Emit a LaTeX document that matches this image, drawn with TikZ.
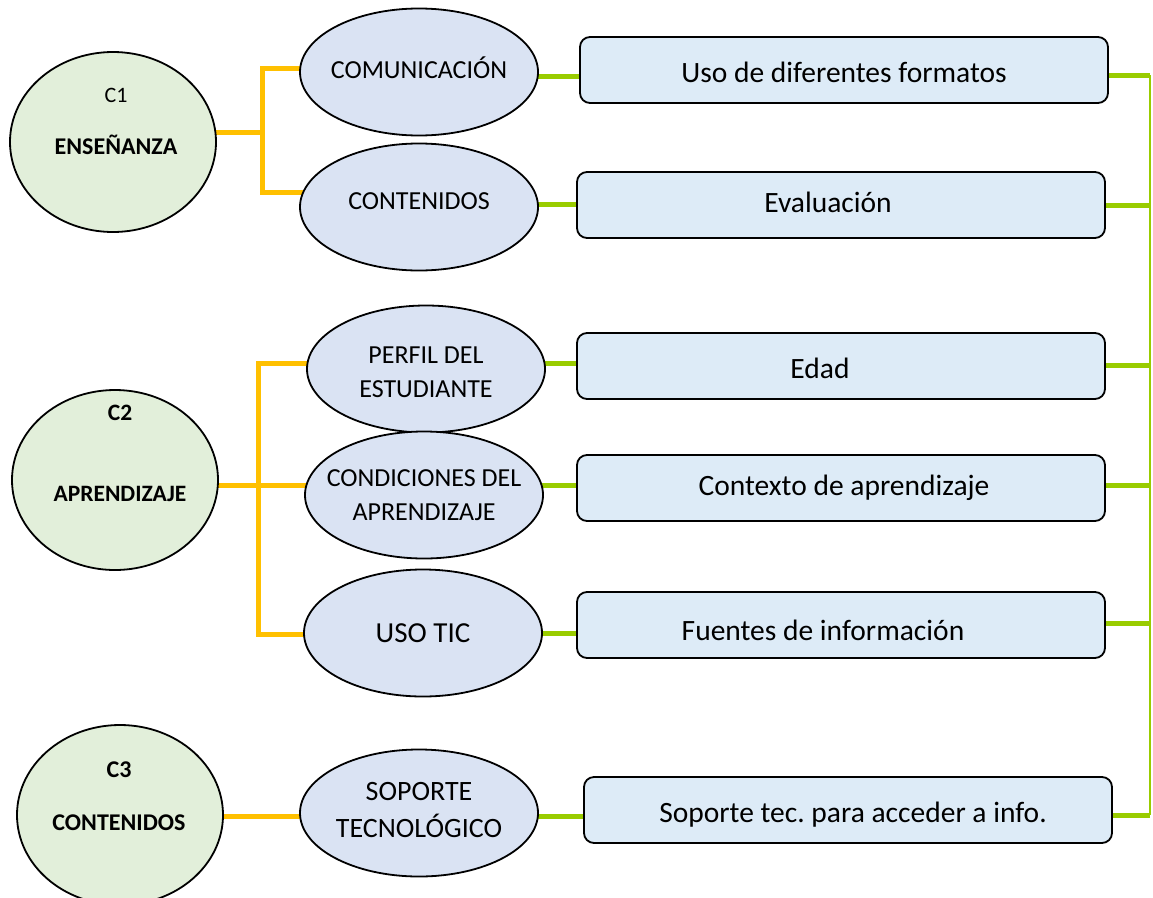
\documentclass[tikz,border=0pt]{standalone}
\usepackage{fontspec}
\setmainfont{Carlito}
\usetikzlibrary{shapes.geometric,backgrounds}
\definecolor{cfill}{HTML}{E2EFDA}
\definecolor{efill}{HTML}{DAE3F3}
\definecolor{bfill}{HTML}{DDEBF7}
\definecolor{orangec}{HTML}{FFC000}
\definecolor{greenc}{HTML}{99CC00}
\begin{document}
\begin{tikzpicture}[x=1pt,y=-1pt,
  cnode/.style={ellipse,draw=black,line width=1.8pt,fill=cfill,minimum width=206pt,minimum height=180pt,inner sep=0pt},
  ctxt/.style={align=center,inner sep=0pt},
  enode/.style={ellipse,draw=black,line width=1.8pt,fill=efill,minimum width=238pt,minimum height=127pt,inner sep=0pt},
  etext/.style={align=center,inner sep=0pt,font=\fontsize{26}{34}\selectfont},
  boxnode/.style={draw=black,line width=1.8pt,rounded corners=10pt,fill=bfill,minimum width=528pt,minimum height=66pt,inner sep=0pt},
  btext/.style={inner sep=0pt,font=\fontsize{29.5}{34}\selectfont},
  oline/.style={draw=orangec,line width=5pt},
  gline/.style={draw=greenc,line width=5pt},
  vline/.style={draw=greenc,line width=2.5pt}]
\useasboundingbox (0,0) rectangle (1153,897);

% category ellipses
\node[cnode] (c1) at (113,142) {};
\node[cnode] (c2) at (115,480) {};
\node[cnode] (c3) at (120,815) {};
\node[ctxt,font=\fontsize{22}{52}\selectfont] (c1t) at (116,121) {C1\\\fontsize{24}{52}\selectfont\textbf{ENSEÑANZA}};
\node[ctxt,font=\fontsize{23.5}{81}\selectfont\bfseries] (c2t) at (120,453) {C2\\APRENDIZAJE};
\node[ctxt,font=\fontsize{24}{53}\selectfont\bfseries] (c3t) at (119,796) {C3\\CONTENIDOS};

% blue ellipses
\node[enode,label={[etext,yshift=4pt]center:COMUNICACIÓN}] (e1) at (419,72) {};
\node[enode,label={[etext,yshift=6pt]center:CONTENIDOS}] (e2) at (419,207) {};
\node[enode,label={[etext,yshift=-3pt]center:PERFIL DEL\\ESTUDIANTE}] (e3) at (426,369) {};
\node[enode,label={[etext]center:CONDICIONES DEL\\APRENDIZAJE}] (e4) at (424,495) {};
\node[enode,label={[etext,font=\fontsize{29}{34}\selectfont]center:USO TIC}] (e5) at (423,633) {};
\node[enode,label={[etext,yshift=3pt,font=\fontsize{28}{37}\selectfont]center:SOPORTE\\TECNOLÓGICO}] (e6) at (419,813) {};

% boxes
\node[boxnode,label={[btext,yshift=-2pt]center:Uso de diferentes formatos}] (b1) at (844,70) {};
\node[boxnode,label={[btext,xshift=-13pt,yshift=3pt]center:Evaluación}] (b2) at (841,205) {};
\node[boxnode,label={[btext,xshift=-21pt,yshift=-2pt]center:Edad}] (b3) at (841,366) {};
\node[boxnode,label={[btext,xshift=3pt]center:Contexto de aprendizaje}] (b4) at (841,488) {};
\node[boxnode,label={[btext,xshift=-18pt,yshift=-5pt]center:Fuentes de información}] (b5) at (841,625) {};
\node[boxnode,label={[btext,xshift=5pt,yshift=-5pt]center:Soporte tec.\ para acceder a info.}] (b6) at (848,810) {};

% junction coordinates
\coordinate (o1t) at (262,68);
\coordinate (o1m) at (262,132);
\coordinate (o1b) at (262,192);
\coordinate (o2t) at (258,363);
\coordinate (o2m) at (258,485);
\coordinate (o2b) at (258,634);
\coordinate (o3) at (258,816);
\coordinate (g1) at (560,76);
\coordinate (g2) at (560,204);
\coordinate (g3) at (560,363);
\coordinate (g4) at (560,485);
\coordinate (g5) at (560,633);
\coordinate (g6) at (560,816);
\coordinate (r1) at (1150,75);
\coordinate (r2) at (1150,205);
\coordinate (r3) at (1150,365);
\coordinate (r4) at (1150,485);
\coordinate (r5) at (1150,623);
\coordinate (r6) at (1150,815);

\begin{scope}[on background layer]
  % orange connectors
  \draw[oline] (o1m -| c1.center) -- (o1m);
  \draw[oline] (o1t -| e1.center) -- (o1t) -- (o1b) -- (o1b -| e2.center);
  \draw[oline] (o2m -| c2.center) -- (o2m -| e4.center);
  \draw[oline] (o2t -| e3.center) -- (o2t) -- (o2b) -- (o2b -| e5.center);
  \draw[oline] (o3 -| c3.center) -- (o3 -| e6.center);
  % green connectors
  \draw[gline] (g1 -| e1.center) -- (g1 -| b1.center);
  \draw[gline] (g2 -| e2.center) -- (g2 -| b2.center);
  \draw[gline] (g3 -| e3.center) -- (g3 -| b3.center);
  \draw[gline] (g4 -| e4.center) -- (g4 -| b4.center);
  \draw[gline] (g5 -| e5.center) -- (g5 -| b5.center);
  \draw[gline] (g6 -| e6.center) -- (g6 -| b6.center);
  \draw[gline] (r1 -| b1.center) -- (r1);
  \draw[gline] (r2 -| b2.center) -- (r2);
  \draw[gline] (r3 -| b3.center) -- (r3);
  \draw[gline] (r4 -| b4.center) -- (r4);
  \draw[gline] (r5 -| b5.center) -- (r5);
  \draw[gline] (r6 -| b6.center) -- (r6);
  \draw[vline] (r1) -- (r6);
\end{scope}
\end{tikzpicture}
\end{document}
